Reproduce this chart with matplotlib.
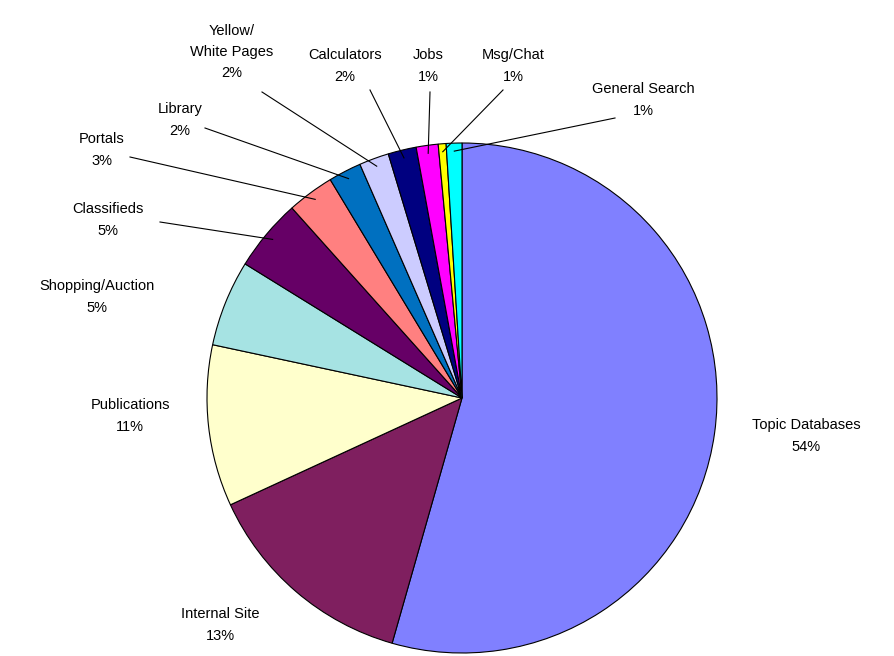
import numpy as np
import matplotlib
matplotlib.use('Agg')
import matplotlib.pyplot as plt

labels = ['Topic Databases', 'Internal Site', 'Publications', 'Shopping/Auction',
          'Classifieds', 'Portals', 'Library', 'Yellow/\nWhite Pages', 'Calculators',
          'Jobs', 'Msg/Chat', 'General Search']
shares = [54.8, 13.8, 10.3, 5.5, 4.6, 3.0, 2.1, 1.9, 1.8, 1.4, 0.5, 1.0]
pct_text = ['54%', '13%', '11%', '5%', '5%', '3%', '2%', '2%', '2%', '1%', '1%', '1%']
colors = ['#8080FF', '#7F1F5F', '#FFFFCC', '#A6E3E3', '#660066', '#FF8080',
          '#0070C0', '#CCCCFF', '#000080', '#FF00FF', '#FFFF00', '#00FFFF']

H = 656
# label text centres (pixel coords, y down) and leader start points
label_pos = [(806, 436), (220, 625), (130, 416), (97, 297), (108, 220), (102, 150),
             (180, 120), (232, 52), (345, 66), (428, 66), (513, 66), (643, 100)]
leader = [None, None, None, None, (160, 222), (130, 157), (205, 128), (262, 92),
          (370, 90), (430, 92), (503, 90), (615, 118)]

plt.rcParams['font.family'] = ['Liberation Sans', 'DejaVu Sans']
fig = plt.figure(figsize=(8.94, 6.56), dpi=100)
ax = fig.add_axes([0, 0, 1, 1])

cx, cy, R = 462, H - 398, 255
wedges, _ = ax.pie(shares, colors=colors, startangle=90, counterclock=False,
                   center=(cx, cy), radius=R, frame=True,
                   wedgeprops=dict(edgecolor='black', linewidth=0.8))
ax.set_xlim(0, 894); ax.set_ylim(0, H); ax.set_aspect('equal'); ax.axis('off')

for w, lab, pct, (tx, ty), ld in zip(wedges, labels, pct_text, label_pos, leader):
    ax.text(tx, H - ty, f'{lab}\n{pct}', ha='center', va='center', fontsize=10.5,
            linespacing=1.65)
    if ld is not None:
        a = np.deg2rad((w.theta1 + w.theta2) / 2)
        ex, ey = cx + (R - 8) * np.cos(a), cy + (R - 8) * np.sin(a)
        ax.plot([ld[0], ex], [H - ld[1], ey], color='black', lw=0.8)

fig.savefig('out.png', dpi=100)
